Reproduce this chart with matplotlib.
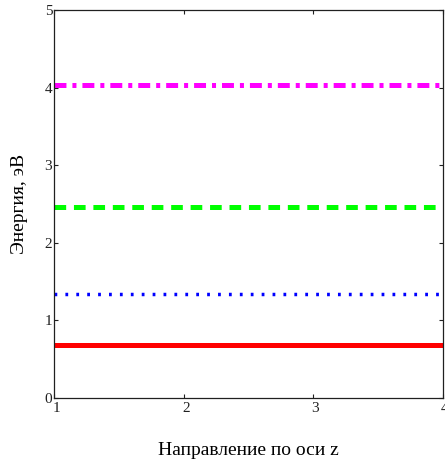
import matplotlib
matplotlib.use("Agg")
import matplotlib.pyplot as plt
import matplotlib.transforms as mtransforms

plt.rcParams['font.family'] = ['Liberation Serif', 'DejaVu Serif']
plt.rcParams['lines.scale_dashes'] = False

# Data
z = [1, 2, 3, 4]
e_red = [0.68, 0.68, 0.68, 0.68]
e_blue = [1.34, 1.34, 1.34, 1.34]
e_green = [2.46, 2.46, 2.46, 2.46]
e_magenta = [4.03, 4.03, 4.03, 4.03]
xticks = [1, 2, 3, 4]
yticks = [0, 1, 2, 3, 4, 5]

W, H = 445, 462
fig = plt.figure(figsize=(W / 100, H / 100), dpi=100)
ax = fig.add_axes([54.3 / W, (H - 398) / H, (442.7 - 54.3) / W, (398 - 10) / H])

ax.plot(z, e_red, color='#ff0000', lw=3.6, solid_capstyle='butt')
ax.plot(z, e_blue, color='#0000ff', lw=2.5, dashes=(2.0, 5.85), dash_capstyle='butt')
ax.plot(z, e_green, color='#00ff00', lw=3.6, dashes=(8.4, 5.6), dash_capstyle='butt')
ax.plot(z, e_magenta, color='#ff00ff', lw=3.6, dashes=(8.6, 4.3, 2.9, 4.3), dash_capstyle='butt')

ax.set_xlim(1, 4)
ax.set_ylim(0, 5)
ax.set_xticks(xticks)
ax.set_yticks(yticks)
ax.tick_params(direction='in', length=2.9, width=0.8, top=True, right=True,
               labelsize=11, pad=3, colors='#202020')
ax.tick_params(axis='y', pad=1.5)
for s in ax.spines.values():
    s.set_linewidth(0.9)
    s.set_color('#202020')

offset = mtransforms.ScaledTranslation(2 / 100, 0, fig.dpi_scale_trans)
for lab in ax.get_xticklabels():
    lab.set_transform(lab.get_transform() + offset)

ax.set_xlabel('Направление по оси z', fontsize=14, labelpad=19.5)
ax.set_ylabel('Энергия, эВ', fontsize=14, labelpad=12)

fig.savefig('out.png', dpi=100)
